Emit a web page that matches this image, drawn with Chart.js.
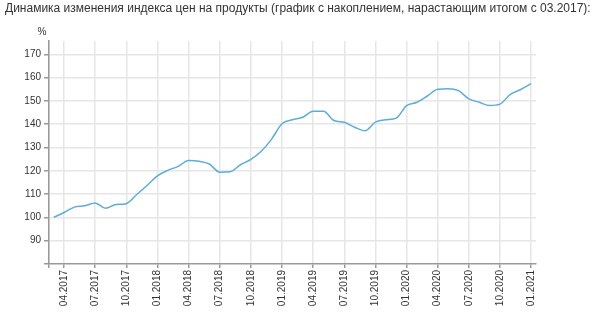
<!DOCTYPE html>
<html><head><meta charset="utf-8">
<script src="https://cdn.jsdelivr.net/npm/chart.js@4"></script>
<style>html,body{margin:0;padding:0;background:#fff}canvas{display:block}</style>
</head><body>
<canvas id="c" width="604" height="325"></canvas>
<script>
const titleText = 'Динамика изменения индекса цен на продукты (график с накоплением, нарастающим итогом с 03.2017):';
const yUnit = '%';
const categories = ['03.2017','04.2017','05.2017','06.2017','07.2017','08.2017','09.2017','10.2017','11.2017','12.2017',
 '01.2018','02.2018','03.2018','04.2018','05.2018','06.2018','07.2018','08.2018','09.2018','10.2018','11.2018','12.2018',
 '01.2019','02.2019','03.2019','04.2019','05.2019','06.2019','07.2019','08.2019','09.2019','10.2019','11.2019','12.2019',
 '01.2020','02.2020','03.2020','04.2020','05.2020','06.2020','07.2020','08.2020','09.2020','10.2020','11.2020','12.2020',
 '01.2021'];
const priceIndex = [100.0,102.1,104.4,105.0,106.2,103.9,105.5,105.9,109.8,113.7,
 117.8,120.2,121.9,124.4,124.1,122.9,119.4,119.6,122.6,124.9,128.4,133.6,
 140.2,141.9,143.0,145.6,145.6,141.6,140.8,138.7,137.2,140.9,141.9,142.6,
 148.0,149.4,152.1,155.0,155.2,154.4,150.9,149.4,148.0,148.6,152.8,154.9,
 157.4];
const tickLabels = ['04.2017','07.2017','10.2017','01.2018','04.2018','07.2018','10.2018','01.2019','04.2019','07.2019','10.2019','01.2020','04.2020','07.2020','10.2020','01.2021'];
const yTicks = [80,90,100,110,120,130,140,150,160,170];

const FONT = 'Arial, "Liberation Sans", sans-serif';
const textPlugin = {
  id: 'texts',
  afterDraw(chart) {
    const ctx = chart.ctx;
    ctx.save();
    ctx.fillStyle = '#333';
    ctx.textBaseline = 'middle';
    ctx.textAlign = 'left';
    ctx.font = '12px ' + FONT;
    ctx.fillText(titleText, 5, 9);
    ctx.textAlign = 'center';
    ctx.font = '10px ' + FONT;
    ctx.fillText(yUnit, 42, 32);
    ctx.restore();
  }
};

new Chart(document.getElementById('c'), {
  type: 'line',
  data: {
    datasets: [{
      data: priceIndex.map((v, i) => ({x: i, y: v})),
      borderColor: '#5aaddd',
      borderWidth: 1.5,
      pointRadius: 0,
      fill: false,
      cubicInterpolationMode: 'monotone'
    }]
  },
  options: {
    responsive: false,
    animation: false,
    layout: {padding: {left: 5, right: 68, top: 41, bottom: 0}},
    plugins: {legend: {display: false}, tooltip: {enabled: false}, title: {display: false}},
    scales: {
      x: {
        type: 'linear',
        min: -0.45,
        max: 46.47,
        afterBuildTicks(scale) {
          scale.ticks = [{value: -0.45}].concat(tickLabels.map(l => ({value: categories.indexOf(l)})));
        },
        afterFit(scale) { scale.height = 61; },
        grid: {color: '#e6e6e6', lineWidth: 1.5, tickLength: 4, tickColor: '#999', tickWidth: 1.5},
        border: {color: '#999', width: 1.5},
        ticks: {
          autoSkip: false, minRotation: 90, maxRotation: 90, padding: 2,
          color: '#333', font: {family: FONT, size: 10},
          callback: (v) => { const i = Math.round(v); return (v >= 0 && categories[i] && tickLabels.includes(categories[i])) ? categories[i] : ''; }
        }
      },
      y: {
        min: 80,
        max: 175.7,
        afterBuildTicks(scale) { scale.ticks = yTicks.map(v => ({value: v})); },
        afterFit(scale) { scale.width = 44; },
        grid: {color: (c) => c.tick && c.tick.value === 80 ? 'rgba(0,0,0,0)' : '#e6e6e6', lineWidth: 1.5, tickLength: 5, tickColor: '#999', tickWidth: 1.5},
        border: {color: '#999', width: 1.5},
        ticks: {
          padding: 3, color: '#333', font: {family: FONT, size: 10},
          callback: (v) => v === 80 ? '' : String(v)
        }
      }
    }
  },
  plugins: [textPlugin]
});
</script>
</body></html>
